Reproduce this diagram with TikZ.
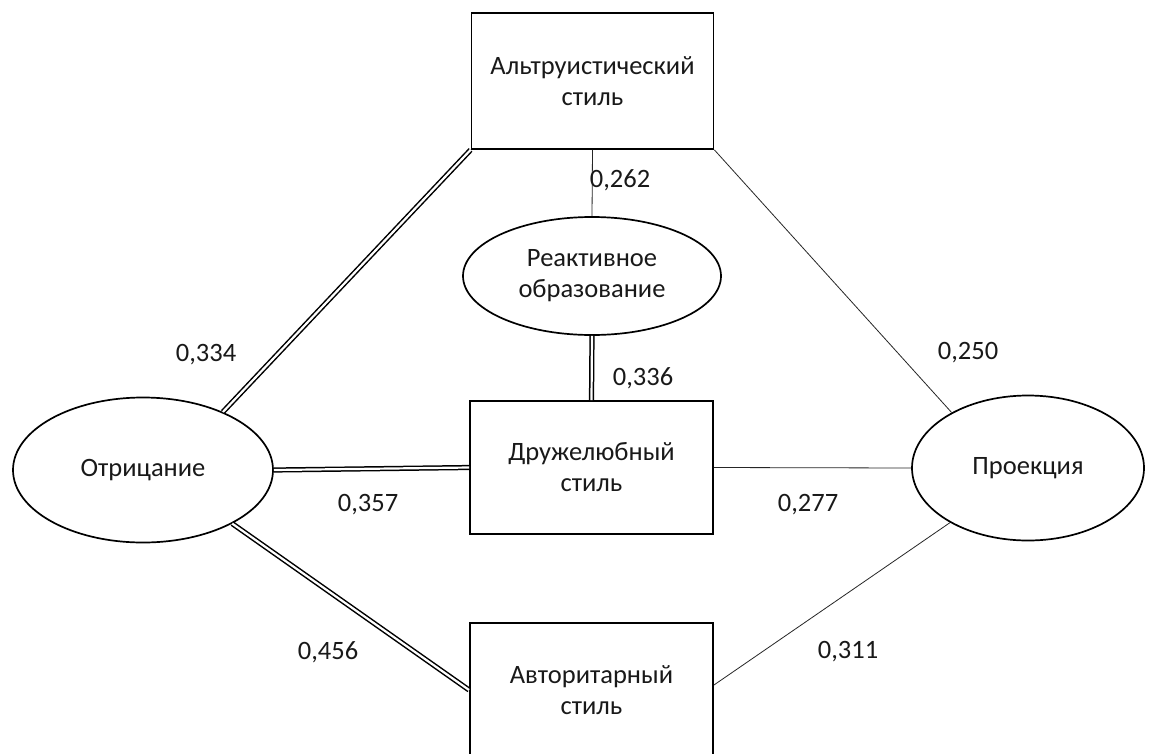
\documentclass[tikz,border=0pt]{standalone}
\usepackage{fontspec}
\setmainfont{Carlito}
\usetikzlibrary{shapes.geometric}
\begin{document}
\begin{tikzpicture}[x=1pt,y=-1pt,
  every node/.style={font=\fontsize{26.5}{31}\selectfont, text=black!90},
  boxnode/.style={draw, line width=1.9pt, rectangle, align=center, inner sep=0pt},
  ellnode/.style={draw, line width=1.7pt, ellipse, align=center, inner sep=0pt},
  thinline/.style={line width=0.8pt, draw=black!85},
  dblline/.style={double, double distance=2.2pt, line width=1.5pt},
  lbl/.style={inner sep=0pt}]
\useasboundingbox[fill=white] (0,0) rectangle (1157,753);
\node[boxnode, minimum width=242pt, minimum height=136pt] (alt) at (592.5,81) {Альтруистический\\стиль};
\node[ellnode, minimum width=258pt, minimum height=118pt] (react) at (592,276) {Реактивное\\образование};
\node[boxnode, minimum width=243pt, minimum height=133pt] (dru) at (591.5,467.5) {Дружелюбный\\стиль};
\node[boxnode, minimum width=243pt, minimum height=134pt] (avt) at (591.5,690) {Авторитарный\\стиль};
\node[ellnode, minimum width=260pt, minimum height=145pt] (otr) at (143,470) {Отрицание};
\node[ellnode, minimum width=232pt, minimum height=145pt] (proj) at (1028,468) {Проекция};

\draw[dblline] (otr.36) -- (alt.south west);
\draw[dblline] (otr.east) -- (dru.west);
\draw[dblline] (otr.-31) -- (avt.west);
\draw[dblline] (react.south) -- (dru.north);
\draw[thinline] (alt.south) -- (react.north);
\draw[thinline] (alt.south east) -- (proj.144);
\draw[thinline] (dru.east) -- (proj.west);
\draw[thinline] ([yshift=5pt]avt.east) -- (proj.215);

\node[lbl] (l334) at (206,355) {0,334};
\node[lbl] (l357) at (368,505) {0,357};
\node[lbl] (l456) at (328,652) {0,456};
\node[lbl] (l262) at (620,180) {0,262};
\node[lbl] (l336) at (643,378) {0,336};
\node[lbl] (l250) at (968,353) {0,250};
\node[lbl] (l277) at (808,505) {0,277};
\node[lbl] (l311) at (848,652) {0,311};
\end{tikzpicture}
\end{document}
